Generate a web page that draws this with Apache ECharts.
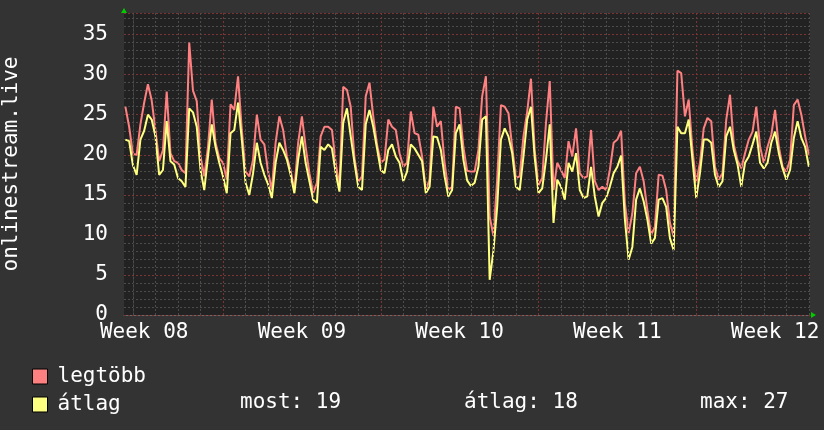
<!DOCTYPE html>
<html><head><meta charset="utf-8">
<script src="https://cdn.jsdelivr.net/npm/echarts@6/dist/echarts.min.js"></script>
<style>html,body{margin:0;padding:0;background:#333333;}#c{width:824px;height:430px;}</style>
</head><body><div id="c"></div>
<script>
// time axis in days; one sample every 4 hours, first sample at startDay
const stepDays = 1 / 6;
const startDay = -2 / 6;
const legtobb = [
  26.0, 23.5, 20.1, 20.0, 23.8, 26.5, 28.8, 26.8,
  23.1, 19.2, 20.6, 27.9, 20.2, 19.2,
  19.0, 18.1, 17.7, 34.0, 28.0, 26.7,
  19.8, 17.3, 21.0, 26.9, 21.5, 19.6,
  19.0, 16.9, 26.3, 25.6, 29.8, 23.1,
  17.9, 17.3, 19.4, 25.0, 21.9, 21.3,
  17.9, 15.6, 21.5, 24.8, 23.1, 19.8,
  18.0, 15.6, 21.5, 24.8, 21.0, 17.7,
  15.2, 16.5, 22.3, 23.5, 23.5, 23.1,
  19.0, 16.0, 28.5, 28.1, 26.0, 19.6,
  16.6, 17.3, 27.3, 29.0, 24.8, 21.3,
  19.0, 19.4, 24.4, 23.5, 23.1, 20.2,
  18.5, 19.0, 25.4, 22.7, 22.5, 19.8,
  15.6, 16.9, 26.0, 23.5, 24.2, 19.0,
  15.6, 16.0, 26.0, 25.8, 21.0, 18.0,
  17.9, 17.9, 20.6, 27.3, 29.8, 12.3,
  9.9, 16.9, 26.2, 26.0, 25.2, 21.0,
  17.1, 17.3, 22.3, 25.4, 29.5, 20.5,
  16.2, 17.1, 24.0, 29.2, 15.6, 19.0,
  18.1, 17.1, 21.7, 19.8, 23.3, 17.7,
  17.1, 17.3, 23.1, 16.7, 15.6, 16.0,
  15.6, 18.1, 21.5, 21.9, 23.0, 14.0,
  10.2, 12.7, 17.7, 18.5, 16.7, 13.1,
  10.0, 11.0, 17.5, 17.4, 15.6, 11.5,
  9.8, 30.5, 30.2, 24.8, 26.9, 20.6,
  16.5, 19.0, 23.3, 24.6, 24.2, 18.5,
  16.9, 17.7, 24.4, 27.5, 21.3, 19.3,
  18.3, 20.2, 21.9, 22.9, 26.0, 21.0,
  19.0, 21.0, 22.5, 25.6, 21.0, 18.5,
  17.9, 19.4, 26.2, 26.9, 25.0, 22.3, 20.0
];
const atlag = [
  21.9, 21.7, 18.7, 17.5, 21.9, 23.0, 25.0, 24.4,
  22.3, 17.5, 18.1, 24.2, 19.2, 18.8,
  17.1, 16.7, 16.0, 25.8, 25.3, 23.5,
  18.1, 15.6, 19.8, 23.8, 21.0, 19.0,
  17.3, 15.2, 22.7, 23.1, 26.5, 21.9,
  16.5, 15.0, 17.7, 21.5, 19.0, 17.5,
  16.3, 14.6, 19.0, 21.5, 20.6, 19.4,
  17.5, 15.2, 19.4, 22.3, 19.0, 16.7,
  14.4, 14.0, 21.0, 20.6, 21.3, 20.8,
  17.7, 15.4, 24.0, 25.8, 22.3, 19.0,
  16.0, 15.6, 23.8, 25.6, 23.5, 20.8,
  18.1, 17.7, 20.6, 21.3, 19.8, 19.0,
  16.7, 17.9, 21.3, 20.8, 20.0, 19.2,
  15.2, 16.0, 22.3, 22.2, 20.6, 17.3,
  14.8, 15.6, 22.7, 23.8, 19.4, 16.8,
  16.1, 16.5, 18.5, 24.4, 24.8, 4.4,
  8.0, 13.5, 21.9, 23.3, 22.3, 20.2,
  16.0, 15.6, 19.8, 24.4, 26.0, 19.6,
  15.2, 15.8, 19.4, 23.8, 11.5, 16.9,
  16.0, 14.4, 19.0, 17.9, 20.2, 15.6,
  14.6, 14.8, 18.5, 14.8, 12.3, 14.0,
  14.6, 16.0, 17.7, 18.5, 19.9, 12.0,
  6.9, 8.5, 14.4, 15.8, 14.2, 11.9,
  8.9, 9.6, 14.4, 14.6, 13.5, 9.6,
  8.1, 23.5, 22.7, 22.7, 24.4, 19.4,
  14.6, 17.7, 21.9, 21.9, 21.5, 17.5,
  16.0, 16.7, 22.3, 23.5, 20.6, 18.8,
  16.0, 19.0, 19.8, 21.3, 22.9, 19.0,
  18.3, 19.0, 21.5, 22.9, 20.2, 18.3,
  16.9, 18.1, 22.1, 24.2, 22.1, 21.0, 18.5
];
const seriesNames = ['legtöbb', 'átlag'];
const weekLabels = ['Week 08', 'Week 09', 'Week 10', 'Week 11', 'Week 12'];
const weekLabelDays = [0.5, 7.5, 14.5, 21.5, 28.5];
const dayLines = [0,1,2,3,4,5,6,7,8,9,10,11,12,13,14,15,16,17,18,19,20,21,22,23,24,25,26,27,28,29,30];
const weekLines = [4, 11, 18, 25];
const statLabels = ['most: 19', 'átlag: 18', 'max: 27'];
const yAxisName = 'onlinestream.live';

const FONT = 'DejaVu Sans Mono';
const toPairs = arr => arr.map((v, i) => [startDay + i * stepDays, v]);

const chart = echarts.init(document.getElementById('c'), null, {renderer: 'canvas'});
const minorColor = '#4c4c4c';
const majorColor = '#7a3434';
const legendBase = {
  orient: 'horizontal', left: 32, itemWidth: 15, itemHeight: 15, padding: 0,
  icon: 'rect', itemStyle: {borderColor: '#000000', borderWidth: 1},
  textStyle: {color: '#ffffff', fontFamily: FONT, fontSize: 21, padding: [0, 0, 0, 5]},
  selectedMode: false
};
chart.setOption({
  animation: false,
  backgroundColor: '#333333',
  textStyle: {fontFamily: FONT},
  grid: {left: 124, right: 14, top: 13, bottom: 115, show: true, backgroundColor: '#222222', borderWidth: 0, outerBoundsMode: 'none', containLabel: false},
  xAxis: {
    type: 'value', min: -0.395, max: 30.05,
    axisLine: {show: true, lineStyle: {color: '#6a6a6a', width: 1}},
    axisTick: {show: false},
    splitLine: {show: false},
    axisLabel: {
      customValues: weekLabelDays, showMinLabel: true, showMaxLabel: true,
      color: '#ffffff', fontFamily: FONT, fontSize: 21, margin: 7,
      formatter: v => { const i = weekLabelDays.findIndex(d => Math.abs(d - v) < 1e-6); return i >= 0 ? weekLabels[i] : ''; }
    }
  },
  yAxis: [
    {
      type: 'value', min: 0, max: 37.7, interval: 1,
      axisLine: {show: true, lineStyle: {color: '#3a3a3a'}},
      axisTick: {show: false}, axisLabel: {show: false},
      splitLine: {show: true, lineStyle: {color: minorColor, type: [2, 2], width: 1}},
      name: yAxisName, nameLocation: 'middle', nameGap: 102, nameRotate: 90,
      nameTextStyle: {color: '#ffffff', fontFamily: FONT, fontSize: 21}
    },
    {
      type: 'value', min: 0, max: 37.7, interval: 5, position: 'left', z: 1,
      axisLine: {show: false}, axisTick: {show: false},
      axisLabel: {color: '#ffffff', fontFamily: FONT, fontSize: 21, margin: 16, showMaxLabel: false},
      splitLine: {show: true, lineStyle: {color: majorColor, type: [2, 2], width: 1}}
    }
  ],
  legend: [
    Object.assign({}, legendBase, {top: 366, data: [seriesNames[0]]}),
    Object.assign({}, legendBase, {top: 394, data: [seriesNames[1]]})
  ],
  graphic: [
    {type: 'polygon', shape: {points: [[124, 8], [121, 13], [127, 13]]}, style: {fill: '#00cc00'}, silent: true},
    {type: 'polygon', shape: {points: [[816, 315], [811, 312], [811, 318]]}, style: {fill: '#00cc00'}, silent: true},
    {type: 'text', left: 240, top: 392, style: {text: statLabels[0], fill: '#ffffff', font: '21px "DejaVu Sans Mono"'}, silent: true},
    {type: 'text', left: 464, top: 392, style: {text: statLabels[1], fill: '#ffffff', font: '21px "DejaVu Sans Mono"'}, silent: true},
    {type: 'text', left: 700, top: 392, style: {text: statLabels[2], fill: '#ffffff', font: '21px "DejaVu Sans Mono"'}, silent: true}
  ],
  series: [
    {
      type: 'line', name: '_grid', data: [], z: 1, silent: true,
      markLine: {
        silent: true, symbol: ['none', 'none'], label: {show: false}, animation: false,
        data: dayLines.map(d => ({xAxis: d, lineStyle: {color: weekLines.includes(d) ? majorColor : minorColor, type: [2, 2], width: 1}}))
      }
    },
    {
      type: 'line', name: seriesNames[0], data: toPairs(legtobb), showSymbol: false, symbol: 'none',
      color: '#ff8080', lineStyle: {color: '#ff8080', width: 2}, itemStyle: {color: '#ff8080'}, z: 3
    },
    {
      type: 'line', name: seriesNames[1], data: toPairs(atlag), showSymbol: false, symbol: 'none',
      color: '#ffff80', lineStyle: {color: '#ffff80', width: 2}, itemStyle: {color: '#ffff80'}, z: 4
    }
  ]
});
</script></body></html>
